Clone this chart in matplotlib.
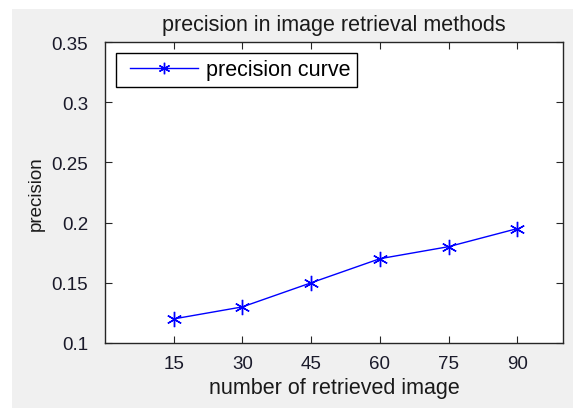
import matplotlib.pyplot as plt
from matplotlib.patches import Rectangle
from matplotlib.legend_handler import HandlerLine2D

# data
retrieved = [15, 30, 45, 60, 75, 90]
precision = [0.12, 0.13, 0.15, 0.17, 0.18, 0.195]
yticks = [0.1, 0.15, 0.2, 0.25, 0.3, 0.35]
ytick_labels = ["0.1", "0.15", "0.2", "0.25", "0.3", "0.35"]

plt.rcParams['font.family'] = ['Liberation Sans', 'DejaVu Sans']

fig = plt.figure(figsize=(5.73, 4.10), dpi=100, facecolor='white')
# matlab style grey figure area
fig.patches.append(Rectangle((12 / 573, 1 / 410), 1, 399 / 410,
                             transform=fig.transFigure, facecolor='#f0f0f0',
                             edgecolor='none', zorder=-10))

ax = fig.add_axes([105 / 573, 66 / 410, 458 / 573, 301 / 410])
line, = ax.plot(retrieved, precision, color='blue', linewidth=1,
                marker=(6, 2, 0), markersize=11, markeredgewidth=1,
                label='precision curve')

ax.set_xlim(0, 100)
ax.set_ylim(0.1, 0.35)
ax.set_xticks(retrieved)
ax.set_yticks(yticks)
ax.set_yticklabels(ytick_labels)
ax.tick_params(direction='in', top=True, right=True, length=5,
               labelsize=13.5, colors='#262626', labelcolor='#1a1a2a')
ax.tick_params(axis='x', pad=9)
ax.tick_params(axis='y', pad=12)
for s in ax.spines.values():
    s.set_color('#262626')
    s.set_linewidth(1)

ax.set_title('precision in image retrieval methods', fontsize=15.5, pad=9,
             color='#1a1a1a')
ax.set_xlabel('number of retrieved image', fontsize=15.5, labelpad=3,
              color='#1a1a1a')
ax.set_ylabel('precision', fontsize=13.5, labelpad=5, color='#1a1a1a')

leg = ax.legend(loc='upper left', fontsize=15.5, fancybox=False,
                edgecolor='black', framealpha=1, borderpad=0.3,
                handlelength=3.5, handletextpad=0.4, borderaxespad=0.5,
                markerscale=0.75,
                handler_map={line: HandlerLine2D(xpad=0.38)})
leg.get_frame().set_linewidth(1)

fig.savefig('out.png', dpi=100, facecolor=fig.get_facecolor())
